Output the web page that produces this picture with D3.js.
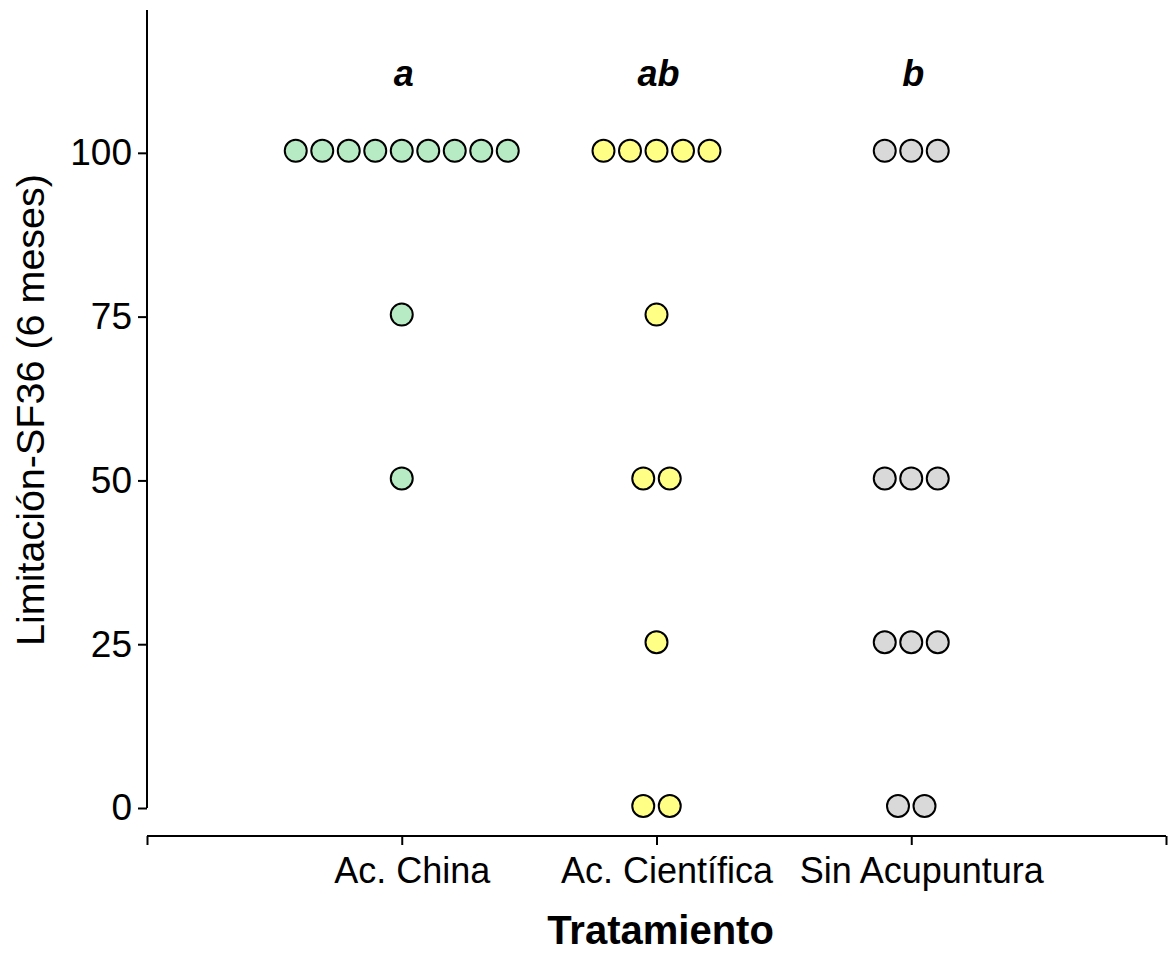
<!DOCTYPE html>
<html>
<head>
<meta charset="utf-8">
<script src="https://cdn.jsdelivr.net/npm/d3@7"></script>
<style>
  html, body { margin: 0; padding: 0; background: #fff; }
  svg { display: block; }
  text { font-family: "Liberation Sans", Arial, Helvetica, sans-serif; }
</style>
</head>
<body>
<svg id="chart" width="1168" height="953"></svg>
<script>
// Treatment groups and the SF36 limitation score of each patient at 6 months
const categories = ["Ac. China", "Ac. Científica", "Sin Acupuntura"];
const acChina = [100, 100, 100, 100, 100, 100, 100, 100, 100, 75, 50];
const acCientifica = [100, 100, 100, 100, 100, 75, 50, 50, 25, 0, 0];
const sinAcupuntura = [100, 100, 100, 50, 50, 50, 25, 25, 25, 0, 0];
const groupValues = [acChina, acCientifica, sinAcupuntura];
const groupLetters = ["a", "ab", "b"];
const groupColors = ["#b6ebc4", "#ffff85", "#d9d9d9"];
const yTicks = [0, 25, 50, 75, 100];

const svg = d3.select("#chart");

const x = d3.scaleLinear().domain([0, 4]).range([147, 1166]);
const y = d3.scaleLinear().domain([0, 121.8]).range([808, 10]);

const dotR = 11;
const dotStep = 26.5;

// Y axis
const yAxis = svg.append("g")
  .attr("transform", `translate(${x(0)},0)`)
  .call(d3.axisLeft(y).tickValues(yTicks).tickSize(9).tickPadding(6));
yAxis.select(".domain").attr("d", `M0,${y(121.8)}V${y(0)}`);
yAxis.selectAll("line, path").attr("stroke", "#000").attr("stroke-width", 2);
yAxis.selectAll("text").attr("font-size", 37).attr("fill", "#000")
  .attr("font-family", "'Liberation Sans', Arial, sans-serif");

// X axis
const xAxis = svg.append("g")
  .attr("transform", "translate(0,836)")
  .call(d3.axisBottom(x).tickValues([0, 1, 2, 3, 4]).tickSize(9)
    .tickFormat(d => (d >= 1 && d <= 3) ? categories[d - 1] : ""));
xAxis.select(".domain").attr("d", `M${x(0)},0H${x(4)}`);
xAxis.selectAll("line, path").attr("stroke", "#000").attr("stroke-width", 2);
xAxis.selectAll("text").attr("font-size", 36).attr("fill", "#000")
  .attr("dx", 10)
  .attr("dy", "0.98em")
  .attr("font-family", "'Liberation Sans', Arial, sans-serif");

// Dot strips: points sharing a value are spread side by side around the group center
const points = [];
groupValues.forEach((vals, gi) => {
  const counts = d3.rollup(vals, v => v.length, d => d);
  counts.forEach((n, val) => {
    for (let k = 0; k < n; k++) {
      points.push({ g: gi, value: val, offset: (k - (n - 1) / 2) * dotStep });
    }
  });
});

svg.append("g").selectAll("circle")
  .data(points)
  .join("circle")
  .attr("cx", d => x(d.g + 1) + d.offset)
  .attr("cy", d => y(d.value) - 2)
  .attr("r", dotR)
  .attr("fill", d => groupColors[d.g])
  .attr("stroke", "#000")
  .attr("stroke-width", 2);

// Significance letters
svg.append("g").selectAll("text")
  .data(groupLetters)
  .join("text")
  .attr("x", (d, i) => x(i + 1) + 2)
  .attr("y", 86)
  .attr("text-anchor", "middle")
  .attr("font-size", 36)
  .attr("font-weight", "bold")
  .attr("font-style", "italic")
  .text(d => d);

// Axis titles
svg.append("text")
  .attr("x", x(2) + 4)
  .attr("y", 944)
  .attr("text-anchor", "middle")
  .attr("font-size", 40)
  .attr("font-weight", "bold")
  .text("Tratamiento");

svg.append("text")
  .attr("transform", `translate(44,410) rotate(-90)`)
  .attr("text-anchor", "middle")
  .attr("font-size", 39.5)
  .text("Limitación-SF36 (6 meses)");
</script>
</body>
</html>
